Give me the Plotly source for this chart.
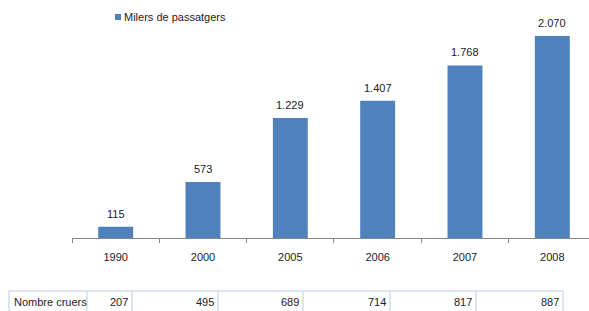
import plotly.graph_objects as go

years = ["1990", "2000", "2005", "2006", "2007", "2008"]
passengers = [115, 573, 1229, 1407, 1768, 2070]
passenger_labels = ["115", "573", "1.229", "1.407", "1.768", "2.070"]
cruises_label = "Nombre cruers"
cruises = [207, 495, 689, 714, 817, 887]
series_name = "Milers de passatgers"

W, H = 589, 311
L, R, T, B = 72, 0, 10, 73
PW, PH = W - L - R, H - T - B
FONT = "Liberation Sans, Arial, sans-serif"
BLUE = "#4F81BD"
TXT = "#222222"

def px(x):
    return (x - L) / PW

def py(y):
    return (H - B - y) / PH

fig = go.Figure()
fig.add_trace(go.Bar(
    x=years, y=passengers, name=series_name,
    marker=dict(color=BLUE, line=dict(width=0)),
    width=0.4, showlegend=False, hoverinfo="skip",
))

annotations = []
for i, (v, lab) in enumerate(zip(passengers, passenger_labels)):
    annotations.append(dict(x=i, y=v, xref="x", yref="y", text=lab,
                            showarrow=False, yanchor="bottom", yshift=5,
                            font=dict(family=FONT, size=11, color=TXT)))

# legend (manual)
shapes = [dict(type="rect", xref="paper", yref="paper",
               x0=px(115), x1=px(121), y0=py(20), y1=py(14),
               fillcolor=BLUE, line=dict(width=0))]
annotations.append(dict(x=px(122), y=py(17), xref="paper", yref="paper",
                        text=series_name, showarrow=False, xanchor="left",
                        yanchor="middle",
                        font=dict(family=FONT, size=11, color=TXT)))

# data table below the chart
col_edges = [9, 87, 132, 218, 303, 390, 476, 563]
tbl_top, tbl_bot = 291, 320
bcol = "#B9CDE5"
shapes.append(dict(type="line", xref="paper", yref="paper",
                   x0=px(col_edges[0]), x1=px(col_edges[-1]),
                   y0=py(tbl_top), y1=py(tbl_top),
                   line=dict(color=bcol, width=1)))
for e in col_edges:
    shapes.append(dict(type="line", xref="paper", yref="paper",
                       x0=px(e), x1=px(e), y0=py(tbl_top), y1=py(tbl_bot),
                       line=dict(color=bcol, width=1)))
annotations.append(dict(x=px(col_edges[0] + 3), y=py(302), xref="paper", yref="paper",
                        text=cruises_label, showarrow=False, xanchor="left",
                        yanchor="middle",
                        font=dict(family=FONT, size=11, color=TXT)))
for i, c in enumerate(cruises):
    annotations.append(dict(x=px(col_edges[i + 2] - 2), y=py(302), xref="paper",
                            yref="paper", text=str(c), showarrow=False,
                            xanchor="right", yanchor="middle",
                            font=dict(family=FONT, size=11, color=TXT)))

fig.update_layout(
    width=W, height=H,
    margin=dict(l=L, r=R, t=T, b=B, pad=0),
    paper_bgcolor="white", plot_bgcolor="white",
    showlegend=False,
    xaxis=dict(type="category", range=[-0.5, 5.42], tickson="boundaries",
               ticks="outside", ticklen=4, tickcolor="#868686",
               showline=True, linecolor="#868686", linewidth=1,
               showgrid=False, zeroline=False,
               tickfont=dict(family=FONT, size=11, color=TXT),
               ticklabelstandoff=9),
    yaxis=dict(range=[0, PH * 2070 / 202], visible=False, showgrid=False,
               zeroline=False),
    shapes=shapes, annotations=annotations,
    font=dict(family=FONT, size=11, color=TXT),
)

fig.write_html("out.html", config={"displayModeBar": False},
               post_script="document.body.style.margin='0';document.body.style.overflow='hidden';")
